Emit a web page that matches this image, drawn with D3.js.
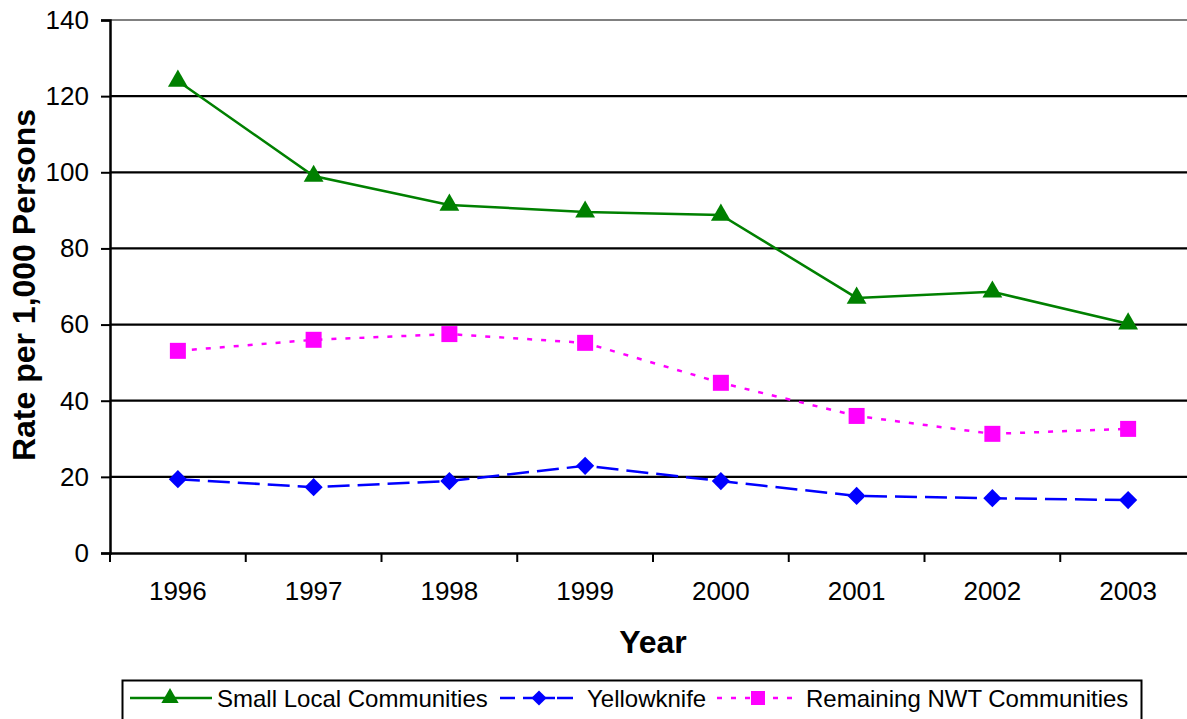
<!DOCTYPE html>
<html><head><meta charset="utf-8">
<script src="https://cdn.jsdelivr.net/npm/d3@7"></script>
<style>body{margin:0;background:#fff}svg{display:block;font-family:"Liberation Sans",Arial,sans-serif}</style>
</head><body>
<svg id="c" width="1187" height="719"></svg>
<script>
const years = ["1996","1997","1998","1999","2000","2001","2002","2003"];
const smallLocal = [124.0, 99.0, 91.4, 89.6, 88.8, 67.0, 68.6, 60.2];
const yellowknife = [19.4, 17.3, 18.9, 22.9, 18.9, 15.0, 14.4, 13.9];
const remainingNWT = [53.1, 56.0, 57.5, 55.2, 44.7, 36.0, 31.3, 32.6];
const yTicks = [0, 20, 40, 60, 80, 100, 120, 140];
const seriesNames = ["Small Local Communities", "Yellowknife", "Remaining NWT Communities"];

const svg = d3.select("#c");
const L = 110, R = 1196, T = 20, B = 553;
const x = d3.scaleBand().domain(years).range([L, R]);
const y = d3.scaleLinear().domain([0, 140]).range([B, T]);

// gridlines
svg.append("g").selectAll("line").data(yTicks.filter(d => d > 0 && d < 140)).join("line")
  .attr("x1", L).attr("x2", R).attr("y1", d => y(d)).attr("y2", d => y(d))
  .attr("stroke", "#000").attr("stroke-width", 2.2);
// top border gray
svg.append("line").attr("x1", L).attr("x2", R).attr("y1", y(140)).attr("y2", y(140))
  .attr("stroke", "#808080").attr("stroke-width", 2.2);

// y axis
const ya = svg.append("g").attr("transform", `translate(${L},0)`)
  .call(d3.axisLeft(y).tickValues(yTicks).tickSize(9).tickPadding(12));
ya.select(".domain").attr("stroke", "#000").attr("stroke-width", 2.5);
ya.selectAll(".tick line").attr("stroke", "#000").attr("stroke-width", 2);
ya.selectAll("text").attr("font-size", 26).attr("fill", "#000").attr("font-family", "Liberation Sans, Arial, sans-serif");

// x axis
const xa = svg.append("g").attr("transform", `translate(0,${B})`)
  .call(d3.axisBottom(x).tickSize(0).tickPadding(29));
xa.select(".domain").attr("stroke", "#000").attr("stroke-width", 2.5);
xa.selectAll("text").attr("font-size", 26).attr("fill", "#000").attr("font-family", "Liberation Sans, Arial, sans-serif");
// band boundary ticks
const bounds = years.map(d => x(d)).concat([R]);
svg.append("g").selectAll("line").data(bounds).join("line")
  .attr("x1", d => d).attr("x2", d => d).attr("y1", B).attr("y2", B + 9)
  .attr("stroke", "#000").attr("stroke-width", 2);

// axis titles
svg.append("text").attr("x", 653).attr("y", 653).attr("text-anchor", "middle")
  .attr("font-size", 32).attr("font-weight", "bold").text("Year");
svg.append("text").attr("transform", "translate(35,285) rotate(-90)").attr("text-anchor", "middle")
  .attr("font-size", 32).attr("font-weight", "bold").text("Rate per 1,000 Persons");

const cx = i => x(years[i]) + x.bandwidth() / 2;
const line = d3.line().x((d, i) => cx(i)).y(d => y(d));

const series = [
  {name: seriesNames[0], data: smallLocal, color: "#008000", dash: null, sym: d3.symbolTriangle, size: 170, rot: 0},
  {name: seriesNames[1], data: yellowknife, color: "#0000FF", dash: "22,8", sym: d3.symbolSquare, size: 165, rot: 45},
  {name: seriesNames[2], data: remainingNWT, color: "#FF00FF", dash: "5,9", sym: d3.symbolSquare, size: 256, rot: 0}
];

// draw in order: remaining, yellowknife, small local
[series[2], series[1], series[0]].forEach(s => {
  svg.append("path").datum(s.data).attr("d", line).attr("fill", "none")
    .attr("stroke", s.color).attr("stroke-width", 2.5)
    .attr("stroke-dasharray", s.dash);
  svg.append("g").selectAll("path").data(s.data).join("path")
    .attr("d", d3.symbol().type(s.sym).size(s.size))
    .attr("transform", (d, i) => `translate(${cx(i)},${y(d)}) rotate(${s.rot})`)
    .attr("fill", s.color);
});

// legend
svg.append("rect").attr("x", 122.5).attr("y", 680.5).attr("width", 1019).attr("height", 50)
  .attr("fill", "#fff").attr("stroke", "#000").attr("stroke-width", 2);
const legItems = [
  {s: series[0], segs: [[130, 212]], dash: null, mx: 170, tx: 217, size: 130},
  {s: series[1], segs: [[500, 515], [523, 555], [557, 573]], dash: null, mx: 539, tx: 587, size: 115},
  {s: series[2], segs: [[717, 800]], dash: "5,9", mx: 758, tx: 806, size: 196}
];
const ly = 698;
legItems.forEach(it => {
  it.segs.forEach(sg => {
    svg.append("line").attr("x1", sg[0]).attr("x2", sg[1]).attr("y1", ly).attr("y2", ly)
      .attr("stroke", it.s.color).attr("stroke-width", 2.5)
      .attr("stroke-dasharray", it.dash);
  });
  svg.append("path").attr("d", d3.symbol().type(it.s.sym).size(it.size)())
    .attr("transform", `translate(${it.mx},${ly}) rotate(${it.s.rot})`).attr("fill", it.s.color);
  svg.append("text").attr("x", it.tx).attr("y", ly + 8.5).attr("font-size", 24).text(it.s.name);
});
</script>
</body></html>
